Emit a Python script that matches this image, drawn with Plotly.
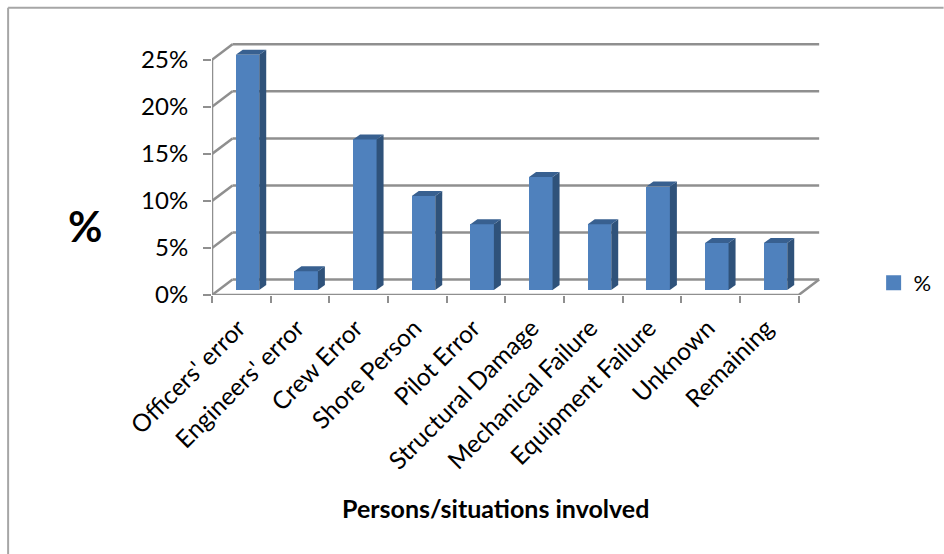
import plotly.graph_objects as go

# Accident causes, share of cases in percent
categories = ["Officers' error", "Engineers' error", "Crew Error", "Shore Person", "Pilot Error",
              "Structural Damage", "Mechanical Failure", "Equipment Failure", "Unknown", "Remaining"]
values = [25, 2, 16, 10, 7, 12, 7, 11, 5, 5]
y_ticks = [0, 5, 10, 15, 20, 25]
y_labels = ["0%", "5%", "10%", "15%", "20%", "25%"]

FONT = "Lato, Carlito, sans-serif"
GREY = "#8f8f8f"
FRONT, SIDE, TOP = "#4f81bd", "#2f527a", "#386090"

# Plot rectangle in page pixels, and the scale of each axis
PX_PER_CAT, PX_PER_PCT = 58.7, 9.4
LEFT, BOTTOM = 212, 295
X_MAX, Y_MAX = 10.5, 27.0
plot_w, plot_h = X_MAX * PX_PER_CAT, Y_MAX * PX_PER_PCT
n = len(categories)

# Oblique projection offsets, in axis units
WALL_DX, WALL_DY = 20.5 / PX_PER_CAT, 15.5 / PX_PER_PCT
BAR_DX, BAR_DY = 7 / PX_PER_CAT, 5 / PX_PER_PCT
BAR_OFFSET, BAR_W = 0.605, 0.40
BASE = BAR_DY

def paper_x(px):
    return (px - LEFT) / plot_w

def paper_y(py):
    return (BOTTOM - py) / plot_h

fig = go.Figure()

# Front faces
centers = [i + BAR_OFFSET for i in range(n)]
fig.add_trace(go.Bar(x=centers, y=values, base=BASE, width=BAR_W,
                     marker=dict(color=FRONT, line=dict(width=0)), showlegend=False))

# Side and top faces
for c, v in zip(centers, values):
    x0, x1 = c - BAR_W / 2, c + BAR_W / 2
    fig.add_trace(go.Scatter(
        x=[x1, x1 + BAR_DX, x1 + BAR_DX, x1, x1],
        y=[BASE, BASE + BAR_DY, BASE + BAR_DY + v, BASE + v, BASE],
        mode="lines", fill="toself", fillcolor=SIDE, line=dict(width=0),
        hoverinfo="skip", showlegend=False))
    fig.add_trace(go.Scatter(
        x=[x0, x1, x1 + BAR_DX, x0 + BAR_DX, x0],
        y=[BASE + v, BASE + v, BASE + v + BAR_DY, BASE + v + BAR_DY, BASE + v],
        mode="lines", fill="toself", fillcolor=TOP, line=dict(width=0),
        hoverinfo="skip", showlegend=False))

# Front frame of the chart box and the wall connectors at each tick
frame = dict(color=GREY, width=2.5)
fig.add_trace(go.Scatter(x=[0, 0], y=[0, y_ticks[-1]], mode="lines", line=frame,
                         cliponaxis=False, hoverinfo="skip", showlegend=False))
fig.add_trace(go.Scatter(x=[0, n, n + WALL_DX], y=[0, 0, WALL_DY], mode="lines", line=frame,
                         cliponaxis=False, hoverinfo="skip", showlegend=False))
for t in y_ticks:
    fig.add_trace(go.Scatter(x=[0, WALL_DX], y=[t, t + WALL_DY], mode="lines", line=frame,
                             cliponaxis=False, hoverinfo="skip", showlegend=False))

# Legend entry
fig.add_trace(go.Scatter(x=[None], y=[None], mode="markers", name="%",
                         marker=dict(symbol="square", size=15, color=FRONT)))

# Back wall gridlines sit underneath the bars
shapes = [dict(type="line", layer="below", xref="x", yref="y",
               x0=WALL_DX, x1=n + WALL_DX, y0=t + WALL_DY, y1=t + WALL_DY,
               line=frame) for t in y_ticks]

# Outer chart border: top and left edges
border = dict(color="#a6a6a6", width=2)
shapes.append(dict(type="line", xref="paper", yref="paper", x0=paper_x(8), x1=paper_x(944),
                   y0=paper_y(8), y1=paper_y(8), line=border))
shapes.append(dict(type="line", xref="paper", yref="paper", x0=paper_x(8), x1=paper_x(8),
                   y0=paper_y(8), y1=paper_y(554), line=border))

annotations = [
    dict(text="<b>%</b>", xref="paper", yref="paper", x=paper_x(85), y=paper_y(226),
         xanchor="center", yanchor="middle", showarrow=False,
         font=dict(family=FONT, size=42, color="black")),
    dict(text="<b>Persons/situations involved</b>", xref="paper", yref="paper",
         x=paper_x(496), y=paper_y(508), xanchor="center", yanchor="middle", showarrow=False,
         font=dict(family=FONT, size=25, color="black")),
]

fig.update_layout(
    width=944, height=554, autosize=False,
    margin=dict(l=LEFT, r=944 - LEFT - plot_w, t=BOTTOM - plot_h, b=554 - BOTTOM, autoexpand=False),
    paper_bgcolor="white", plot_bgcolor="white",
    bargap=0, shapes=shapes, annotations=annotations,
    legend=dict(x=paper_x(874), y=paper_y(283), xanchor="left", yanchor="middle",
                font=dict(family=FONT, size=22, color="black"), bgcolor="rgba(0,0,0,0)",
                itemwidth=30, borderwidth=0),
    xaxis=dict(range=[0, X_MAX], showgrid=False, zeroline=False, showline=False,
               tickmode="array", tickvals=[i + 0.45 for i in range(n)], ticktext=categories,
               tickangle=-45, ticks="", ticklabelstandoff=13,
               tickfont=dict(family=FONT, size=24.5, color="black"),
               minor=dict(tickmode="array", tickvals=list(range(n + 1)), ticks="outside",
                          ticklen=7, tickwidth=2, tickcolor=GREY, showgrid=False)),
    yaxis=dict(range=[0, Y_MAX], showgrid=False, zeroline=False, showline=False,
               tickmode="array", tickvals=y_ticks, ticktext=y_labels,
               ticks="outside", ticklen=8, tickwidth=2, tickcolor=GREY,
               ticklabelstandoff=10,
               tickfont=dict(family=FONT, size=24, color="black")),
)

fig.write_html("out.html")
